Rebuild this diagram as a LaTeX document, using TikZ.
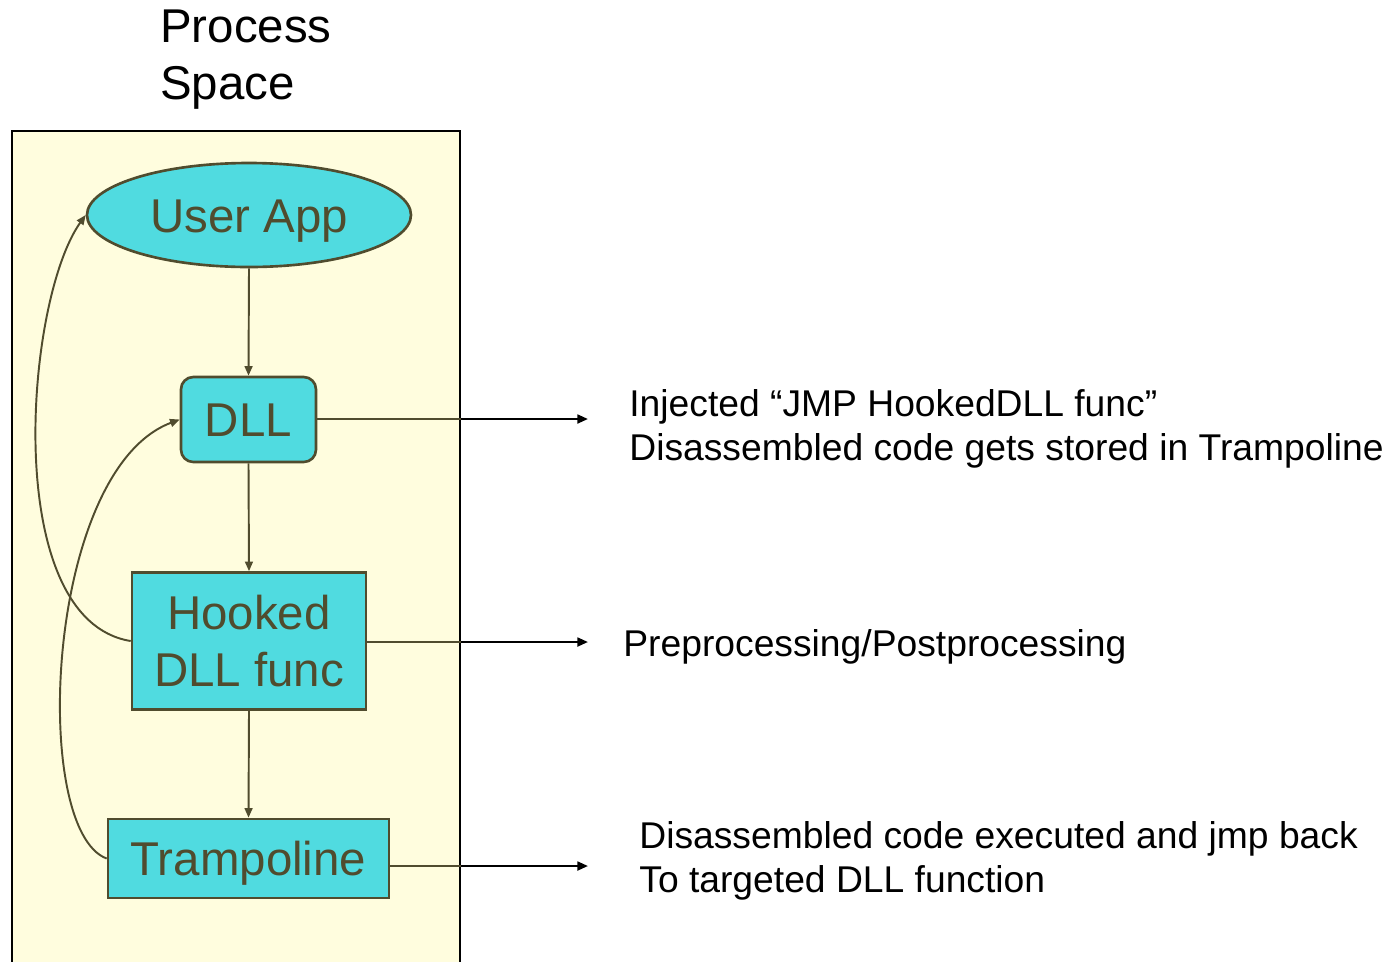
\documentclass[tikz,border=0pt]{standalone}
\usepackage{fontspec}
\setmainfont{Liberation Sans}
\usetikzlibrary{arrows.meta,positioning,shapes.geometric}
\definecolor{spacefill}{RGB}{255,253,222}
\definecolor{boxfill}{RGB}{80,219,224}
\definecolor{boxline}{RGB}{80,76,46}
\newcommand{\px}{0.02cm}
\tikzset{
  spacebox/.style={draw=black, fill=spacefill, line width=1.4pt, inner sep=0pt},
  blockbox/.style={draw=boxline, fill=boxfill, line width=1.5pt, text=boxline,
    font=\fontsize{27}{32.5}\selectfont, inner sep=0pt, align=center},
  oneline/.style={text height=19.5pt, text depth=0pt},
  flowln/.style={-{Triangle[length=5.5pt,width=4.5pt]}, line width=1.1pt, boxline},
  noteln/.style={-{Triangle[length=6pt,width=5pt]}, line width=1.3pt, black},
  notetext/.style={anchor=west, inner sep=0pt, align=left,
    font=\fontsize{21.2}{25}\selectfont},
}

\begin{document}
\begin{tikzpicture}[x=\px, y=\px]
  \useasboundingbox (0,0) rectangle (1389,-961);
  % process space
  \node (space) [spacebox, anchor=north west, minimum width=448*\px,
    minimum height=850*\px] at (11,-130) {};
  \node (title) [anchor=west, inner sep=0pt, align=left,
    font=\fontsize{27}{32.5}\selectfont] at (160,-60) {Process\\Space};
  % call chain
  \node (app) [blockbox, oneline, ellipse, minimum width=324*\px,
    minimum height=104*\px] at (249,-215) {User App};
  \node (dll) [blockbox, oneline, rounded corners=7pt, minimum width=135*\px,
    minimum height=85*\px] at (248.5,-419.5) {DLL};
  \node (hook) [blockbox, minimum width=234*\px,
    minimum height=137*\px] at (249,-641) {Hooked\\DLL func};
  \node (tramp) [blockbox, oneline, minimum width=281*\px,
    minimum height=79*\px] at (248.5,-858.5) {Trampoline};
  \draw[flowln] (app.south) -- (dll.north);
  \draw[flowln] (dll.south) -- (hook.north);
  \draw[flowln] (hook.south) -- (tramp.north);
  \draw[flowln] (hook.west) .. controls (0,-620) and (25,-300) .. (app.west);
  \draw[flowln] (tramp.west) .. controls (30,-830) and (45,-470) .. (dll.west);
  % notes
  \coordinate (dlltip) at (588,-419);
  \coordinate (hooktip) at (588,-642);
  \coordinate (tramptip) at (588,-866);
  \foreach \src/\tip in {dll/dlltip, hook/hooktip, tramp/tramptip} {
    \draw[line width=1.3pt, boxline] (\src.east |- \tip) -- (space.east |- \tip);
    \draw[noteln] (space.east |- \tip) -- (\tip);
  }
  \node (dllnote) [notetext] at (629,-429)
    {Injected “JMP HookedDLL func”\\Disassembled code gets stored in Trampoline};
  \node (hooknote) [notetext] at (623,-647) {Preprocessing/Postprocessing};
  \node (trampnote) [notetext] at (639,-861)
    {Disassembled code executed and jmp back\\To targeted DLL function};
\end{tikzpicture}
\end{document}
